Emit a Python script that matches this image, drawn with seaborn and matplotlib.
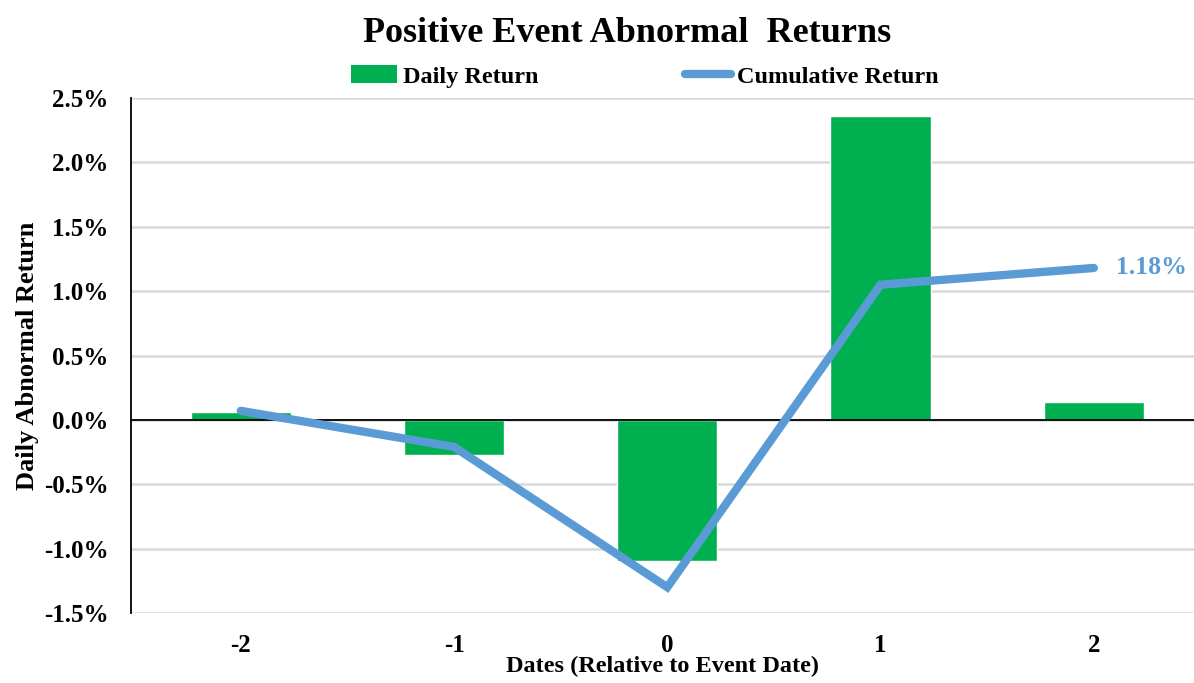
import numpy as np
import pandas as pd
import matplotlib
matplotlib.use('Agg')
import matplotlib.pyplot as plt
from matplotlib.ticker import FuncFormatter
from matplotlib.lines import Line2D
from matplotlib.patches import Patch
import seaborn as sns

dates = [-2, -1, 0, 1, 2]
daily_return = [0.06, -0.27, -1.10, 2.36, 0.14]
cumulative_return = [0.07, -0.21, -1.30, 1.05, 1.18]
yticks = [-1.5, -1.0, -0.5, 0.0, 0.5, 1.0, 1.5, 2.0, 2.5]

green = '#00B050'
blue = '#5B9BD5'

sns.set_style('white')
plt.rcParams['font.family'] = ['Liberation Serif', 'DejaVu Serif']
plt.rcParams['font.weight'] = 'bold'
plt.rcParams['text.color'] = 'black'
plt.rcParams['axes.labelcolor'] = 'black'
plt.rcParams['xtick.color'] = 'black'
plt.rcParams['ytick.color'] = 'black'

df = pd.DataFrame({'date': dates, 'daily': daily_return, 'cum': cumulative_return})

fig = plt.figure(figsize=(11.94, 6.83), dpi=100)
ax = fig.add_axes([0.1097, 0.1025, 0.8903, 0.754])

sns.barplot(data=df, x='date', y='daily', native_scale=True, width=0.47,
            color=green, saturation=1, ax=ax, zorder=2)
sns.lineplot(data=df, x='date', y='cum', color=blue, linewidth=6,
             solid_capstyle='round', solid_joinstyle='miter', ax=ax, zorder=3)

ax.set_xlim(-2.515, 2.47)
ax.set_ylim(-1.5, 2.5)
ax.set_yticks(yticks)
ax.yaxis.set_major_formatter(FuncFormatter(lambda v, p: f'{v:.1f}%'))
ax.set_xticks(dates)
ax.set_xticklabels([str(d) for d in dates])
ax.tick_params(axis='y', labelsize=18, length=0, pad=16)
ax.tick_params(axis='x', labelsize=18, length=0, pad=15)

ax.grid(axis='y', color='#D9D9D9', linewidth=1.8, zorder=0)
ax.set_axisbelow(True)
ax.axhline(0, color='black', linewidth=1.3, zorder=2.5)
for s in ['top', 'right', 'bottom']:
    ax.spines[s].set_visible(False)
ax.spines['left'].set_color('black')
ax.spines['left'].set_linewidth(1.3)

ax.set_xlabel('Dates (Relative to Event Date)', fontsize=17.5, fontweight='bold', labelpad=-1)
ax.set_ylabel('Daily Abnormal Return', fontsize=19, fontweight='bold', labelpad=4)

ax.annotate(f'{cumulative_return[-1]:.2f}%', xy=(dates[-1], cumulative_return[-1]),
            xytext=(16, 0), textcoords='offset points', va='center', ha='left',
            color=blue, fontsize=18.5, fontweight='bold')

fig.suptitle('Positive Event Abnormal  Returns', x=0.525, y=0.975, fontsize=26, fontweight='bold')

handles = [Patch(facecolor=green, edgecolor='none'),
           Line2D([0], [0], color=blue, linewidth=6, solid_capstyle='round')]
fig.legend(handles, ['Daily Return', 'Cumulative Return'], loc='center',
           bbox_to_anchor=(0.540, 0.888), ncol=2, frameon=False, fontsize=17.5,
           handlelength=1.9, handletextpad=0.25, columnspacing=6.0)

fig.savefig('out.png', dpi=100)
